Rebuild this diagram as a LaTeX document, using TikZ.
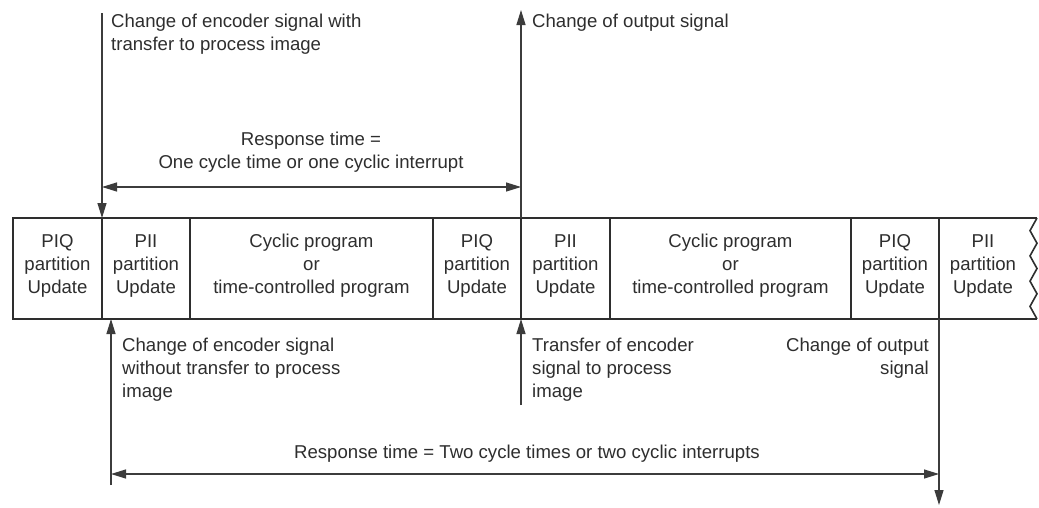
\documentclass[tikz,border=0pt]{standalone}
\usepackage{fontspec}
\setmainfont{Liberation Sans}
\usetikzlibrary{arrows.meta,calc}
\definecolor{ink}{HTML}{2E2E2E}
\definecolor{wire}{HTML}{3C3C3C}
\begin{document}
\begin{tikzpicture}[x=1pt,y=-1pt,
  font=\fontsize{18.6}{22.9}\selectfont,
  cell/.style={draw=ink, line width=1.8pt, minimum height=101pt, inner sep=0pt, outer sep=0pt},
  celltext/.style={align=center, text=ink, yshift=2.5pt, inner sep=0pt},
  frame/.style={draw=ink, line width=1.8pt},
  zig/.style={draw=ink, line width=1.6pt, line join=miter},
  arr/.style={draw=wire, line width=1.2pt, -{Triangle[length=15pt,width=9pt]}},
  arrboth/.style={draw=wire, line width=1.2pt, {Triangle[length=15pt,width=9pt]}-{Triangle[length=15pt,width=9pt]}},
  note/.style={inner sep=0pt, text=ink, align=left}]

\fill[white] (0,0) rectangle (1039,507);
\useasboundingbox (0,0) rectangle (1039,507);

% the cycle bar
\node[cell, minimum width=89pt, label={[celltext]center:PIQ\\partition\\Update}] (c1) at (57.5,268.5) {};
\node[cell, minimum width=88pt, label={[celltext]center:PII\\partition\\Update}] (c2) at (146,268.5) {};
\node[cell, minimum width=243pt, label={[celltext]center:Cyclic program\\or\\time-controlled program}] (c3) at (311.5,268.5) {};
\node[cell, minimum width=88pt, label={[celltext]center:PIQ\\partition\\Update}] (c4) at (477,268.5) {};
\node[cell, minimum width=89pt, label={[celltext]center:PII\\partition\\Update}] (c5) at (565.5,268.5) {};
\node[cell, minimum width=241pt, label={[celltext]center:Cyclic program\\or\\time-controlled program}] (c6) at (730.5,268.5) {};
\node[cell, minimum width=88pt, label={[celltext]center:PIQ\\partition\\Update}] (c7) at (895,268.5) {};
\node[cell, draw=none, minimum width=88pt, label={[celltext]center:PII\\partition\\Update}] (c8) at (983,268.5) {};

% open end of the bar with a break line
\coordinate (zt) at (1037,218);
\coordinate (zb) at (1037,319);
\draw[frame] (c8.north west) -- (zt);
\draw[frame] (c8.south west) -- (zb);
\draw[zig] (zt)
  \foreach \k in {1,...,8} {
    -- ++({ifthenelse(mod(\k,2)==1,-7,7)}, 12.625)
  };

% signal markers
\coordinate (s1) at (102,13);
\draw[arr] (s1) -- (c2.north west);
\coordinate (o1) at (521,10);
\draw[arr] (c5.north west) -- (o1);
\coordinate (t1) at (521,405);
\draw[arr] (t1) -- (c5.south west);
\coordinate (e1) at (111,485);
\coordinate (e2) at ($(c2.south west)+(9,0)$);
\draw[arr] (e1) -- (e2);
\coordinate (d1) at (939,505);
\draw[arr] (c8.south west) -- (d1);

% response time spans
\coordinate (r1a) at (102,187);
\coordinate (r1b) at (521,187);
\draw[arrboth] (r1a) -- (r1b);
\coordinate (r2a) at (111,474);
\coordinate (r2b) at (939,474);
\draw[arrboth] (r2a) -- (r2b);

% annotations
\node[note, anchor=north west] (n1) at (111,13.6) {Change of encoder signal with\\transfer to process image};
\node[note, anchor=north west] (n2) at (532,13.6) {Change of output signal};
\node[note, align=center, anchor=north] (n3) at (311,131.6) {Response time =\\One cycle time or one cyclic interrupt};
\node[note, anchor=north west] (n4) at (122,337.6) {Change of encoder signal\\without transfer to process\\image};
\node[note, anchor=north west] (n5) at (532,337.6) {Transfer of encoder\\signal to process\\image};
\node[note, align=right, anchor=north east] (n6) at (929,337.6) {Change of output\\signal};
\node[note, align=center, anchor=north] (n7) at (527,444.6) {Response time = Two cycle times or two cyclic interrupts};
\end{tikzpicture}
\end{document}
